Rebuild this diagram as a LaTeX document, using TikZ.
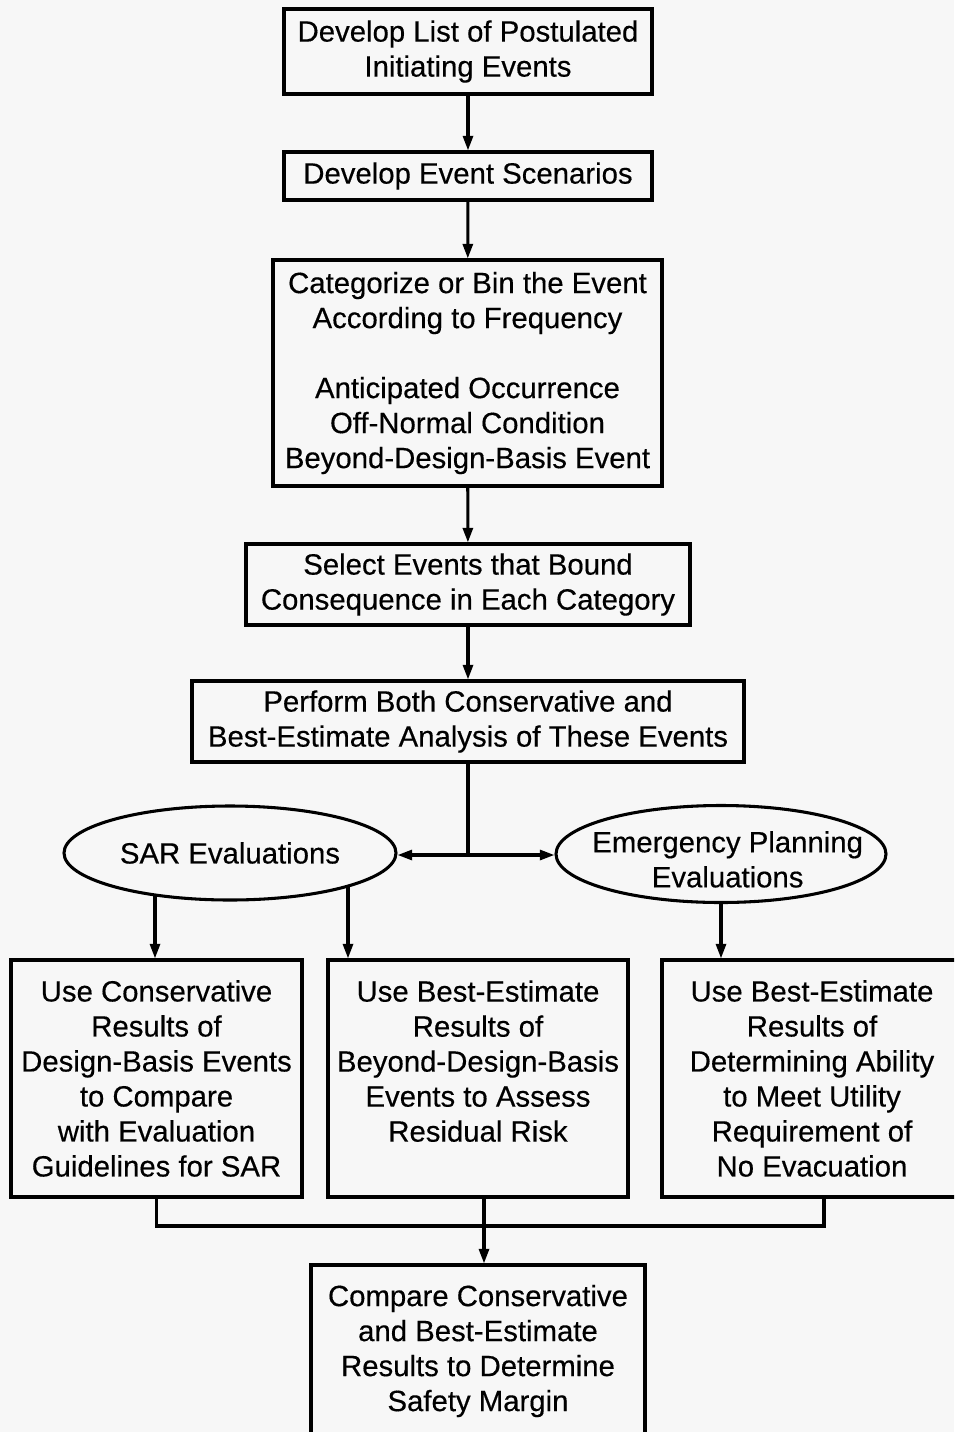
\documentclass[tikz,border=0pt]{standalone}
\usepackage{fontspec}
\setmainfont{Liberation Sans}[FakeBold=0.4]
\usetikzlibrary{arrows.meta,shapes.geometric}

\definecolor{paper}{RGB}{247,247,247}

\tikzset{
  box/.style={draw, line width=2.3pt, align=center, inner sep=0pt,
    font=\fontsize{22}{26.25}\selectfont},
  oval/.style={box, ellipse},
  boxsize/.style 2 args={minimum width=#1*0.75pt, minimum height=#2*0.75pt},
  flow/.style={line width=2.3pt, -{Triangle[length=11pt,width=7.5pt]}},
  link/.style={line width=2.3pt}
}

\begin{document}
\begin{tikzpicture}[x=0.75pt, y=-0.75pt, line join=miter]

% page area (pixel units of the scan)
\useasboundingbox (0,0) rectangle (954,1432);
\fill[paper] (0,0) rectangle (954,1432);
\clip (0,0) rectangle (954,1432);

% top chain
\node[box, boxsize={368}{85}] (list) at (468,51.5)
  {Develop List of Postulated\\Initiating Events};
\node[box, boxsize={368}{48}] (scen) at (468,176)
  {Develop Event Scenarios};
\node[box, boxsize={389}{226}] (bin) at (467.5,373)
  {Categorize or Bin the Event\\According to Frequency\\[26.25pt]
   Anticipated Occurrence\\Off-Normal Condition\\Beyond-Design-Basis Event};
\node[box, boxsize={444}{81}] (bound) at (468,584.5)
  {Select Events that Bound\\Consequence in Each Category};
\node[box, boxsize={552}{81}] (both) at (468,721.5)
  {Perform Both Conservative and\\Best-Estimate Analysis of These Events};

% the two evaluations (text kept out of the shape size)
\node[oval, boxsize={332}{94}] (sar) at (230,853) {};
\node[oval, boxsize={330}{97}] (emerg) at (721,854) {};
\node[font=\fontsize{22}{26.25}\selectfont] (sarText) at (sar.center) {SAR Evaluations};
\node[font=\fontsize{22}{26.25}\selectfont, align=center] (emergText)
  at ([xshift=5pt, yshift=-4pt]emerg.center) {Emergency Planning\\Evaluations};

% result boxes
\node[box, boxsize={291}{237}] (cons) at (156.5,1078.5)
  {Use Conservative\\Results of\\Design-Basis Events\\to Compare\\
   with Evaluation\\Guidelines for SAR};
\node[box, boxsize={300}{237}] (resid) at (478,1078.5)
  {Use Best-Estimate\\Results of\\Beyond-Design-Basis\\Events to Assess\\
   Residual Risk\\\mbox{}};
\node[box, boxsize={300}{237}] (evac) at (812,1078.5)
  {Use Best-Estimate\\Results of\\Determining Ability\\to Meet Utility\\
   Requirement of\\No Evacuation};
\node[box, boxsize={334}{172}] (margin) at (478,1351)
  {Compare Conservative\\and Best-Estimate\\Results to Determine\\Safety Margin};

% helper points
\coordinate (split) at (468,855);
\coordinate (sarL) at (155,895);
\coordinate (sarR) at (348,886);
\coordinate (merge) at (484,1226);

% connectors
\draw[flow] (list) -- (scen);
\draw[flow] (scen) -- (bin);
\draw[flow] (bin) -- (bound);
\draw[flow] (bound) -- (both);
\draw[link] (both) -- (split);
\draw[flow] (split) -- (split -| sar.east);
\draw[flow] (split) -- (split -| emerg.west);
\draw[flow] (sarL) -- (sarL |- cons.north);
\draw[flow] (sarR) -- (sarR |- resid.north);
\draw[flow] (emerg.south) -- (emerg.south |- evac.north);
\draw[link] (cons.south) |- (merge) -| ([xshift=9]evac.south);
\draw[link] (merge |- resid.south) -- (merge);
\draw[flow] (merge) -- (merge |- margin.north);

\end{tikzpicture}
\end{document}
